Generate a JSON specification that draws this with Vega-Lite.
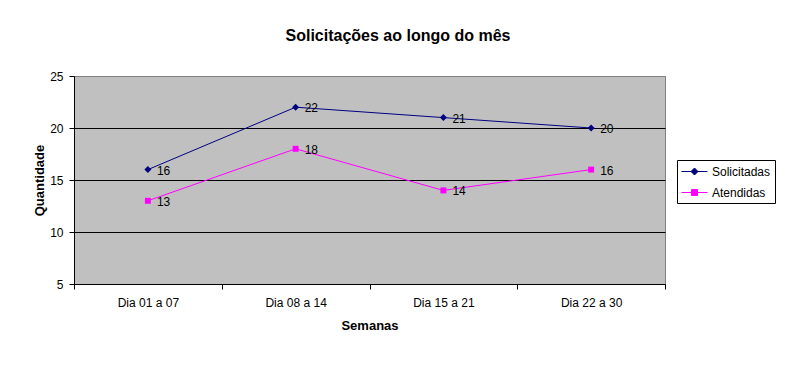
{
  "$schema": "https://vega.github.io/schema/vega-lite/v6.json",
  "width": 591,
  "height": 208,
  "autosize": {"type": "none"},
  "padding": {"left": 74, "top": 76, "right": 134, "bottom": 84},
  "background": "white",
  "title": {
    "text": "Solicitações ao longo do mês",
    "font": "Liberation Sans",
    "fontSize": 16,
    "fontWeight": "bold",
    "color": "black",
    "anchor": "middle",
    "frame": "group",
    "dx": 28.5,
    "baseline": "alphabetic",
    "offset": 13
  },
  "data": {
    "values": [
      {"semana": "Dia 01 a 07", "serie": "Solicitadas", "quantidade": 16},
      {"semana": "Dia 08 a 14", "serie": "Solicitadas", "quantidade": 22},
      {"semana": "Dia 15 a 21", "serie": "Solicitadas", "quantidade": 21},
      {"semana": "Dia 22 a 30", "serie": "Solicitadas", "quantidade": 20},
      {"semana": "Dia 01 a 07", "serie": "Atendidas", "quantidade": 13},
      {"semana": "Dia 08 a 14", "serie": "Atendidas", "quantidade": 18},
      {"semana": "Dia 15 a 21", "serie": "Atendidas", "quantidade": 14},
      {"semana": "Dia 22 a 30", "serie": "Atendidas", "quantidade": 16}
    ]
  },
  "encoding": {
    "x": {
      "field": "semana",
      "type": "nominal",
      "sort": null,
      "bandPosition": 0.5,
      "scale": {"type": "band", "paddingInner": 0, "paddingOuter": 0},
      "axis": {
        "title": "Semanas",
        "labelAngle": 0,
        "tickBand": "extent",
        "tickSize": 5,
        "labelPadding": 8,
        "labelFontSize": 12,
        "titleFontSize": 13,
        "titleFontWeight": "bold",
        "titleY": 45,
        "titleBaseline": "alphabetic",
        "grid": false
      }
    },
    "y": {
      "field": "quantidade",
      "type": "quantitative",
      "scale": {"domain": [5, 25], "nice": false, "zero": false},
      "axis": {
        "title": "Quantidade",
        "values": [5, 10, 15, 20, 25],
        "tickSize": 5,
        "labelPadding": 6,
        "labelFontSize": 12,
        "titleFontSize": 13,
        "titleFontWeight": "bold",
        "titleX": -35,
        "titleY": 104,
        "titleBaseline": "middle",
        "titleAnchor": "middle",
        "grid": true,
        "gridColor": {"condition": {"test": "datum.value == 25", "value": "#808080"}, "value": "black"}
      }
    },
    "color": {
      "field": "serie",
      "type": "nominal",
      "scale": {"domain": ["Solicitadas", "Atendidas"], "range": ["#000080", "#FF00FF"]},
      "legend": {
        "title": null,
        "orient": "none",
        "legendX": 603,
        "legendY": 84,
        "padding": 4,
        "strokeColor": "black",
        "fillColor": "white",
        "labelFontSize": 12,
        "labelColor": "black",
        "labelAlign": "left",
        "labelOffset": 10,
        "symbolOffset": 6,
        "symbolSize": 196,
        "rowPadding": 7,
        "encode": {
          "symbols": {
            "update": {
              "fill": {"scale": "color", "field": "value"},
              "stroke": {"scale": "color", "field": "value"},
              "strokeWidth": {"value": 1},
              "opacity": {"value": 1},
              "fillOpacity": {"value": 1},
              "shape": {"signal": "datum.value === 'Solicitadas' ? 'M-1.857,0H1.857M0,-0.5L0.5,0L0,0.5L-0.5,0Z' : 'M-1.857,0H1.857M-0.43,-0.43H0.43V0.43H-0.43Z'"}
            }
          }
        }
      }
    }
  },
  "layer": [
    {"mark": {"type": "line", "strokeWidth": 1}},
    {
      "transform": [{"filter": "datum.serie === 'Solicitadas'"}],
      "mark": {"type": "point", "filled": true, "opacity": 1, "size": 49, "shape": "M0,-1L1,0L0,1L-1,0Z"}
    },
    {
      "transform": [{"filter": "datum.serie === 'Atendidas'"}],
      "mark": {"type": "point", "filled": true, "opacity": 1, "size": 49, "shape": "M-0.85,-0.85H0.85V0.85H-0.85Z"}
    },
    {
      "mark": {"type": "text", "align": "left", "baseline": "middle", "dx": 9, "dy": 1, "fontSize": 12, "color": "black"},
      "encoding": {
        "text": {"field": "quantidade", "type": "quantitative"},
        "color": {"value": "black"}
      }
    }
  ],
  "config": {
    "font": "Liberation Sans",
    "view": {"fill": "#C0C0C0", "stroke": "#808080", "strokeWidth": 1},
    "axis": {
      "domainColor": "black",
      "tickColor": "black",
      "labelColor": "black",
      "titleColor": "black",
      "labelFont": "Liberation Sans",
      "titleFont": "Liberation Sans",
      "gridOpacity": 1
    },
    "legend": {"labelFont": "Liberation Sans"}
  }
}
